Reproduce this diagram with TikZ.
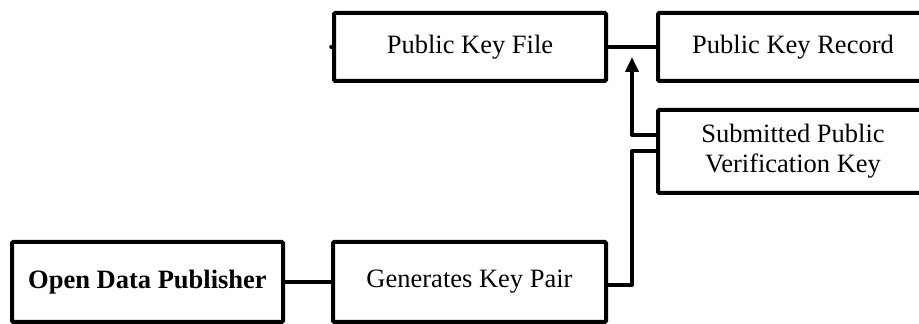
\documentclass[tikz,border=0pt]{standalone}
\usepackage{fontspec}
\setmainfont{Liberation Serif}
\usetikzlibrary{arrows.meta}
\begin{document}
\begin{tikzpicture}[x=0.5pt,y=-0.5pt,
  box/.style={draw=black,line width=2pt,rounded corners=0.6pt,fill=white,inner sep=0pt,align=center,font=\fontsize{13.25}{15}\selectfont},
  link/.style={draw=black,line width=2pt,line join=round},
  arr/.style={link,-{Triangle[length=7.5pt,width=6.5pt]}}]
\useasboundingbox (0,0) rectangle (919,324);
\clip (0,0) rectangle (919,324);
\node[box,minimum width=136pt,minimum height=34pt] (pkf) at (470,47) {Public Key File};
\node[box,minimum width=135pt,minimum height=34pt] (pkr) at (793,47) {Public Key Record};
\node[box,minimum width=135pt,minimum height=41.5pt] (spvk) at (793,151.5) {Submitted Public\\Verification Key};
\node[box,minimum width=136.5pt,minimum height=40pt] (gkp) at (469.5,282) {Generates Key Pair};
\node[box,minimum width=135.5pt,minimum height=40pt] (odp) at (147.5,282) {\bfseries Open Data Publisher};
\coordinate (stub) at ([xshift=-0.4pt]pkf.west);
\coordinate (tip) at (632,57);
\draw[link] (pkf.east) -- (pkr.west);
\draw[link] (odp.east) -- (gkp.west);
\draw[link] ([yshift=-1.5pt]gkp.east) -| (632,151.5) -- (spvk.west);
\draw[arr] (spvk.west |- 0,135) -| (tip);
\draw[link,line cap=round] (pkf.west) -- (stub);
\end{tikzpicture}
\end{document}
